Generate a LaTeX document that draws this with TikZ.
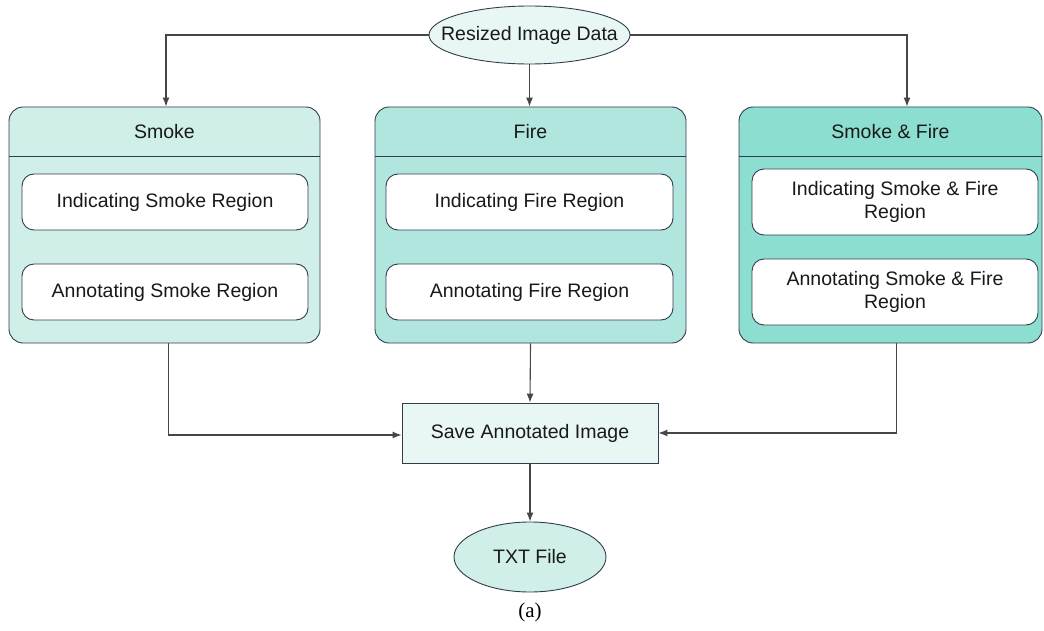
\documentclass[tikz,border=0pt]{standalone}
\usepackage{fontspec}
\setmainfont{Liberation Sans}
\newfontfamily\capfont{Liberation Serif}
\usetikzlibrary{shapes.geometric,arrows.meta}
\definecolor{bordc}{RGB}{50,60,78}
\definecolor{linec}{RGB}{70,70,70}
\definecolor{smokefill}{RGB}{207,239,232}
\definecolor{firefill}{RGB}{176,230,221}
\definecolor{sffill}{RGB}{140,223,208}
\definecolor{palefill}{RGB}{232,247,244}
\definecolor{txtc}{RGB}{25,25,25}
\begin{document}
\begin{tikzpicture}[x=1pt,y=-1pt,
  font=\fontsize{19.5}{23}\selectfont, text=txtc,
  container/.style={draw=bordc, line width=0.9pt, rounded corners=14pt, minimum width=311pt, minimum height=236pt, inner sep=0pt},
  inner/.style={draw=bordc, line width=0.9pt, fill=white, rounded corners=12pt, minimum width=286pt, minimum height=56pt, align=center, inner sep=0pt},
  hdr/.style={inner sep=0pt},
  conn/.style={draw=linec, line width=1.1pt, -{Latex[length=9pt,width=7pt]}},
  oval/.style={ellipse, draw=bordc, line width=0.9pt, inner sep=0pt}
]
\useasboundingbox (0,0) rectangle (1044,631);

% top ellipse
\node[oval, fill=palefill, minimum width=201pt, minimum height=58pt] (rid) at (529.5,35) {};
\node[inner sep=0pt] (ridt) at (rid.center) {Resized Image Data};

% containers
\node[container, fill=smokefill] (smoke) at (164.5,225) {};
\node[container, fill=firefill] (fire) at (530.5,225) {};
\node[container, fill=sffill, minimum width=303pt] (sf) at (890.5,225) {};

\draw[bordc, line width=0.9pt] (9,156) -- (320,156);
\draw[bordc, line width=0.9pt] (375,156) -- (686,156);
\draw[bordc, line width=0.9pt] (739,156) -- (1042,156);

\node[hdr] (smokeh) at (164.5,132) {Smoke};
\node[hdr] (fireh) at (530.5,132) {Fire};
\node[hdr] (sfh) at (890.5,132) {Smoke \& Fire};

% inner boxes
\node[inner] (is) at (165,202) {Indicating Smoke Region};
\node[inner] (as) at (165,292) {Annotating Smoke Region};
\node[inner, minimum width=287pt] (iff) at (529.5,202) {Indicating Fire Region};
\node[inner, minimum width=287pt] (af) at (529.5,292) {Annotating Fire Region};
\node[inner, minimum height=66pt] (isf) at (895,202) {Indicating Smoke \& Fire\\Region};
\node[inner, minimum height=66pt] (asf) at (895,292) {Annotating Smoke \& Fire\\Region};

% save box
\node[draw=bordc, line width=0.9pt, fill=palefill, minimum width=256pt, minimum height=60pt, inner sep=0pt] (save) at (530,433) {Save Annotated Image};

% txt ellipse
\node[oval, fill=smokefill, minimum width=152pt, minimum height=70pt] (txt) at (530,557) {};
\node[inner sep=0pt] (txtt) at (txt.center) {TXT File};

% caption
\node[font=\capfont\fontsize{21}{24}\selectfont, text=black] (cap) at (530,612) {(a)};

% connectors
\draw[conn] (rid.west) -| ([xshift=1.5pt]smoke.north);
\draw[conn] (rid.south) -- (rid.south |- fire.north);
\draw[conn] (rid.east) -| ([xshift=16.5pt]sf.north);
\draw[conn] ([xshift=4pt]smoke.south) |- ([yshift=-2pt]save.west);
\draw[conn] (fire.south) -- (save.north);
\draw[conn] ([xshift=6pt]sf.south) |- (save.east);
\draw[conn] (save.south) -- (txt.north);
\end{tikzpicture}
\end{document}
